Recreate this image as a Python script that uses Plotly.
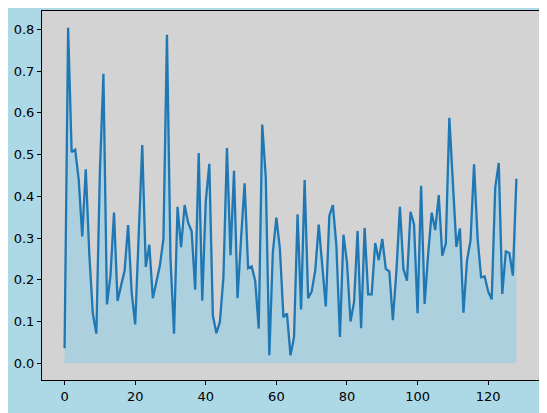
import plotly.graph_objects as go

# values, one per integer step
x = list(range(129))
y = [0.036, 0.804, 0.506, 0.512, 0.44, 0.304, 0.465, 0.262, 0.119, 0.071,
     0.46, 0.694, 0.141, 0.21, 0.361, 0.149, 0.186, 0.222, 0.331, 0.17,
     0.093, 0.308, 0.523, 0.231, 0.284, 0.156, 0.198, 0.234, 0.298, 0.787,
     0.25, 0.071, 0.375, 0.278, 0.379, 0.337, 0.316, 0.176, 0.504, 0.15,
     0.389, 0.478, 0.115, 0.072, 0.099, 0.206, 0.516, 0.259, 0.461, 0.156,
     0.30, 0.431, 0.228, 0.232, 0.198, 0.083, 0.572, 0.445, 0.019, 0.266,
     0.349, 0.274, 0.11, 0.119, 0.019, 0.063, 0.357, 0.129, 0.439, 0.156,
     0.172, 0.222, 0.332, 0.226, 0.136, 0.353, 0.379, 0.282, 0.063, 0.308,
     0.242, 0.1, 0.146, 0.317, 0.084, 0.324, 0.165, 0.165, 0.288, 0.247,
     0.298, 0.226, 0.22, 0.103, 0.22, 0.375, 0.226, 0.198, 0.363, 0.333,
     0.12, 0.425, 0.142, 0.262, 0.361, 0.319, 0.403, 0.258, 0.287, 0.588,
     0.421, 0.279, 0.323, 0.121, 0.246, 0.294, 0.477, 0.30, 0.206, 0.208,
     0.172, 0.153, 0.421, 0.48, 0.166, 0.268, 0.264, 0.21, 0.442]

xticks = [0, 20, 40, 60, 80, 100, 120]
yticks = [0.0, 0.1, 0.2, 0.3, 0.4, 0.5, 0.6, 0.7, 0.8]

fig = go.Figure()
fig.add_trace(go.Scatter(
    x=x, y=y,
    mode='lines',
    fill='tozeroy',
    fillcolor='rgba(135,206,235,0.5)',
    line=dict(color='#1f77b4', width=2.3),
    showlegend=False,
    hoverinfo='skip'
))

axis_style = dict(
    showgrid=False, zeroline=False,
    showline=True, linecolor='black', linewidth=1, mirror=True,
    ticks='outside', ticklen=4, tickcolor='black', tickwidth=1,
    tickfont=dict(family='DejaVu Sans', size=13, color='black')
)

# 5% padding either side, like the original's autoscale
fig.update_xaxes(range=[-6.4, 134.4], tickvals=xticks, **axis_style)
fig.update_yaxes(range=[-0.0402, 0.8442], tickvals=yticks,
                 ticktext=['%.1f' % v for v in yticks], **axis_style)

# the page body puts the figure 8px in from the top-left corner
fig.update_layout(
    width=547, height=413,
    margin=dict(l=34, r=16, t=3, b=41),
    paper_bgcolor='lightblue',
    plot_bgcolor='lightgray'
)

fig.write_html("out.html")
